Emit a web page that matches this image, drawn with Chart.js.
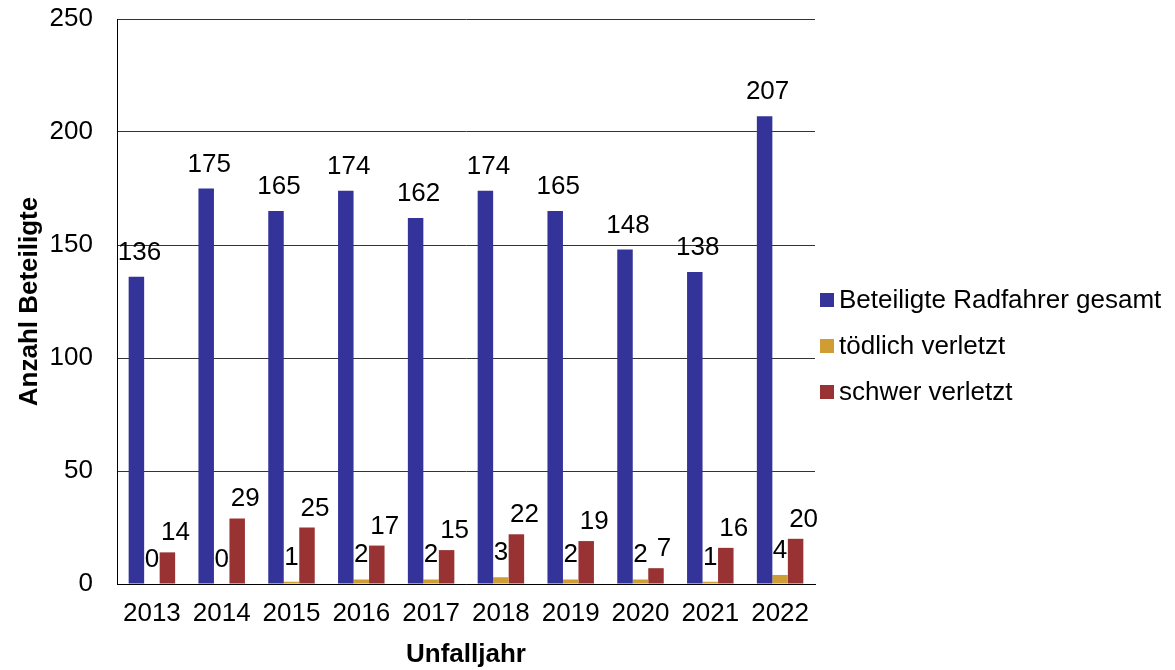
<!DOCTYPE html>
<html>
<head>
<meta charset="utf-8">
<script src="https://cdn.jsdelivr.net/npm/chart.js@4/dist/chart.umd.min.js"></script>
<style>
  body { margin: 0; background: #fff; }
  #wrap { position: relative; width: 1175px; height: 670px; }
  .leg { position: absolute; left: 820px; height: 26px; font: 26px "Liberation Sans", Arial, sans-serif; line-height: 26px; color: #000; white-space: nowrap; }
  .leg .box { position: absolute; left: 0; top: 7px; width: 14px; height: 14px; }
  .leg .txt { position: absolute; left: 19px; top: 0; }
</style>
</head>
<body>
<div id="wrap">
  <canvas id="chart" width="1175" height="670"></canvas>
  <div id="legend"></div>
</div>
<script>
const jahre = ["2013", "2014", "2015", "2016", "2017", "2018", "2019", "2020", "2021", "2022"];
const gesamt = [136, 175, 165, 174, 162, 174, 165, 148, 138, 207];
const toedlich = [0, 0, 1, 2, 2, 3, 2, 2, 1, 4];
const schwer = [14, 29, 25, 17, 15, 22, 19, 7, 16, 20];
const yTicks = [0, 50, 100, 150, 200, 250];

const namen = ["Beteiligte Radfahrer gesamt", "tödlich verletzt", "schwer verletzt"];
const farben = ["#333399", "#D09C34", "#993333"];

const schrift = '"Liberation Sans", Arial, sans-serif';

// Werte über den Balken
const wertePlugin = {
  id: "werte",
  afterDatasetsDraw(chart) {
    const ctx = chart.ctx;
    const versatz = [[3, 17], [0, 17], [8, 12]];
    ctx.save();
    ctx.font = "26px " + schrift;
    ctx.fillStyle = "#000";
    ctx.textAlign = "center";
    ctx.textBaseline = "alphabetic";
    chart.data.datasets.forEach((ds, i) => {
      const meta = chart.getDatasetMeta(i);
      meta.data.forEach((bar, j) => {
        ctx.fillText(String(ds.data[j]), bar.x + versatz[i][0], bar.y - versatz[i][1]);
      });
    });
    ctx.restore();
  }
};

new Chart(document.getElementById("chart"), {
  type: "bar",
  data: {
    labels: jahre,
    datasets: [
      { label: namen[0], data: gesamt, backgroundColor: farben[0] },
      { label: namen[1], data: toedlich, backgroundColor: farben[1] },
      { label: namen[2], data: schwer, backgroundColor: farben[2] }
    ]
  },
  options: {
    responsive: false,
    animation: false,
    categoryPercentage: 0.666,
    barPercentage: 1,
    layout: { padding: { top: 0, left: 0, right: 360, bottom: 0 } },
    plugins: {
      legend: { display: false },
      tooltip: { enabled: false }
    },
    scales: {
      x: {
        grid: { display: false, drawTicks: false },
        border: { color: "#000", width: 1 },
        ticks: { color: "#000", font: { family: schrift, size: 26 }, padding: 14 },
        title: {
          display: true,
          text: "Unfalljahr",
          color: "#000",
          font: { family: schrift, size: 26, weight: "bold" },
          padding: { top: 8, bottom: 0 }
        },
        afterFit(scale) { scale.height = 86; }
      },
      y: {
        min: 0,
        max: 250,
        afterBuildTicks(scale) { scale.ticks = yTicks.map(v => ({ value: v })); },
        grid: { color: "#333", lineWidth: 1, drawTicks: false },
        border: { color: "#000", width: 1 },
        ticks: { color: "#000", font: { family: schrift, size: 26 }, padding: 24 },
        title: {
          display: true,
          text: "Anzahl Beteiligte",
          color: "#000",
          font: { family: schrift, size: 26, weight: "bold" },
          padding: { top: 14, bottom: 4 }
        },
        afterFit(scale) {
          scale.width = 117;
          scale.paddingTop = 19;
          scale.paddingBottom = 0;
        }
      }
    }
  },
  plugins: [wertePlugin]
});

const legende = document.getElementById("legend");
namen.forEach((n, i) => {
  const row = document.createElement("div");
  row.className = "leg";
  row.style.top = (286 + 46 * i) + "px";
  row.innerHTML = '<span class="box" style="background:' + farben[i] + '"></span><span class="txt">' + n + '</span>';
  legende.appendChild(row);
});
</script>
</body>
</html>
